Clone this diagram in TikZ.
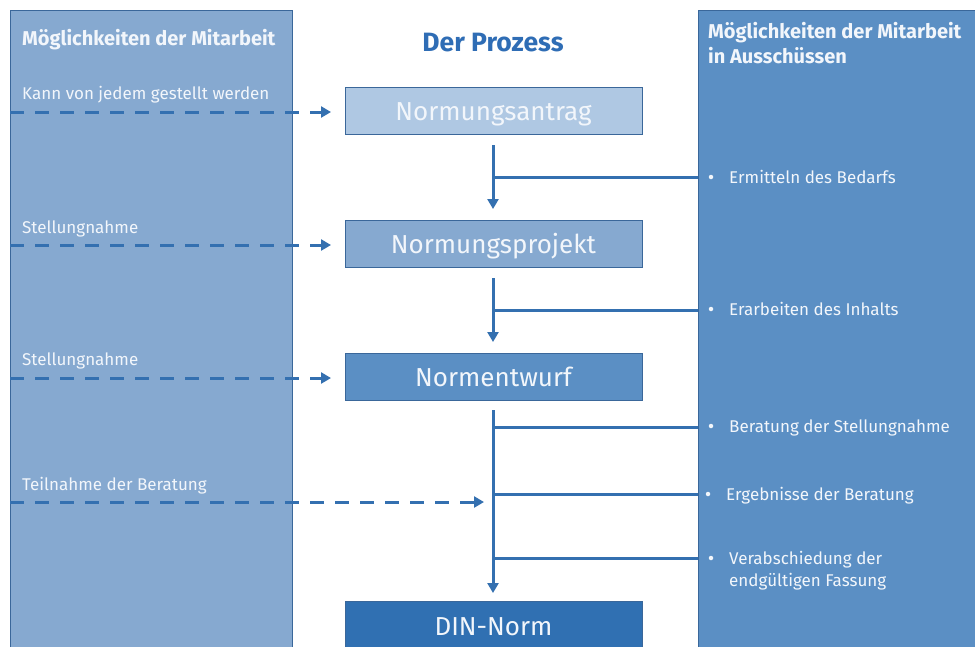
\documentclass[tikz,border=0pt]{standalone}
\usepackage{fontspec}
\setmainfont{Fira Sans}
\usetikzlibrary{arrows.meta}
\definecolor{panelL}{HTML}{86A9D0}
\definecolor{panelR}{HTML}{5B8FC4}
\definecolor{edge}{HTML}{3A679A}
\definecolor{boxA}{HTML}{AFC8E3}
\definecolor{boxB}{HTML}{86A9D0}
\definecolor{boxC}{HTML}{5B8FC4}
\definecolor{boxD}{HTML}{3070B2}
\definecolor{linec}{HTML}{3470B0}
\definecolor{txt}{HTML}{F2F6FB}
\definecolor{titlec}{HTML}{2F6DB5}
\begin{document}
\begin{tikzpicture}[x=1pt,y=-1pt,
  panel/.style={draw=edge,line width=1.2pt,anchor=north west,inner sep=0pt},
  procbox/.style={draw=edge,line width=1pt,minimum width=297pt,minimum height=47pt,inner sep=0pt,text=txt,text height=19pt,text depth=0pt,font=\fontsize{26}{30}\selectfont},
  ltext/.style={anchor=base west,inner sep=0pt,text=txt,font=\fontsize{17}{20}\selectfont},
  htext/.style={anchor=base west,inner sep=0pt,text=txt,font=\bfseries\fontsize{20}{24}\selectfont},
  solidarrow/.style={draw=linec,line width=3pt,-{Triangle[length=10pt,width=11pt]}},
  solidline/.style={draw=linec,line width=3pt},
  dasharrow/.style={draw=linec,line width=3pt,dash pattern=on 14pt off 11pt,-{Triangle[length=10pt,width=11pt]}},
  bul/.style={circle,fill=txt,inner sep=0pt,minimum size=4.5pt}
]
\useasboundingbox (0,0) rectangle (975,646);
\clip (0,0) rectangle (975,646);
\fill[white] (0,0) rectangle (975,646);
% panels
\node[panel,fill=panelL,minimum width=282pt,minimum height=660pt] (lp) at (10,10) {};
\node[panel,fill=panelR,minimum width=300pt,minimum height=660pt] (rp) at (698,10) {};
% titles
\node[htext] (lt) at (22,45) {Möglichkeiten der Mitarbeit};
\node[htext] (rt1) at (708,38) {Möglichkeiten der Mitarbeit};
\node[htext] (rt2) at (708,63) {in Ausschüssen};
\node[anchor=base,inner sep=0pt,text=titlec,font=\bfseries\fontsize{26.5}{30}\selectfont] (pt) at (493,51) {Der Prozess};
% process boxes
\node[procbox,fill=boxA] (b1) at (493.5,110.5) {Normungsantrag};
\node[procbox,fill=boxB] (b2) at (493.5,243.5) {Normungsprojekt};
\node[procbox,fill=boxC] (b3) at (493.5,376.5) {Normentwurf};
\node[procbox,fill=boxD,minimum height=50pt] (b4) at (493.5,626) {DIN-Norm};
% left labels
\node[ltext] (l1) at (22,99) {Kann von jedem gestellt werden};
\node[ltext] (l2) at (22,233) {Stellungnahme};
\node[ltext] (l3) at (22,365) {Stellungnahme};
\node[ltext] (l4) at (22,490) {Teilnahme der Beratung};
% right labels
\node[ltext] (r1) at (729,183) {Ermitteln des Bedarfs};
\node[ltext] (r2) at (729,315) {Erarbeiten des Inhalts};
\node[ltext] (r3) at (729,432) {Beratung der Stellungnahme};
\node[ltext] (r4) at (726,500) {Ergebnisse der Beratung};
\node[ltext] (r5a) at (729,564) {Verabschiedung der};
\node[ltext] (r5b) at (729,586) {endgültigen Fassung};
\node[bul] (d1) at (711,177) {};
\node[bul] (d2) at (711,309) {};
\node[bul] (d3) at (711,426) {};
\node[bul] (d4) at (708,494) {};
\node[bul] (d5) at (711,558) {};
% coordinates
\coordinate (v1s) at (493,145);
\coordinate (v1e) at (493,209);
\coordinate (v2s) at (493,278);
\coordinate (v2e) at (493,342);
\coordinate (v3s) at (493,410);
\coordinate (v3e) at (493,593);
\coordinate (h1) at (493,177);
\coordinate (h2) at (493,310);
\coordinate (h3) at (493,427);
\coordinate (h4) at (493,494);
\coordinate (h5) at (493,558);
% solid arrows
\draw[solidarrow] (v1s) -- (v1e);
\draw[solidarrow] (v2s) -- (v2e);
\draw[solidarrow] (v3s) -- (v3e);
\draw[solidline] (h1) -- (h1 -| rp.west);
\draw[solidline] (h2) -- (h2 -| rp.west);
\draw[solidline] (h3) -- (h3 -| rp.west);
\draw[solidline] (h4) -- (h4 -| rp.west);
\draw[solidline] (h5) -- (h5 -| rp.west);
% dashed arrows
\coordinate (e1) at (331,112);
\coordinate (e2) at (331,245);
\coordinate (e3) at (331,378);
\coordinate (e4) at (484,502);
\draw[dasharrow] (e1 -| lp.west) -- (e1);
\draw[dasharrow] (e2 -| lp.west) -- (e2);
\draw[dasharrow] (e3 -| lp.west) -- (e3);
\draw[dasharrow] (e4 -| lp.west) -- (e4);
\end{tikzpicture}
\end{document}
